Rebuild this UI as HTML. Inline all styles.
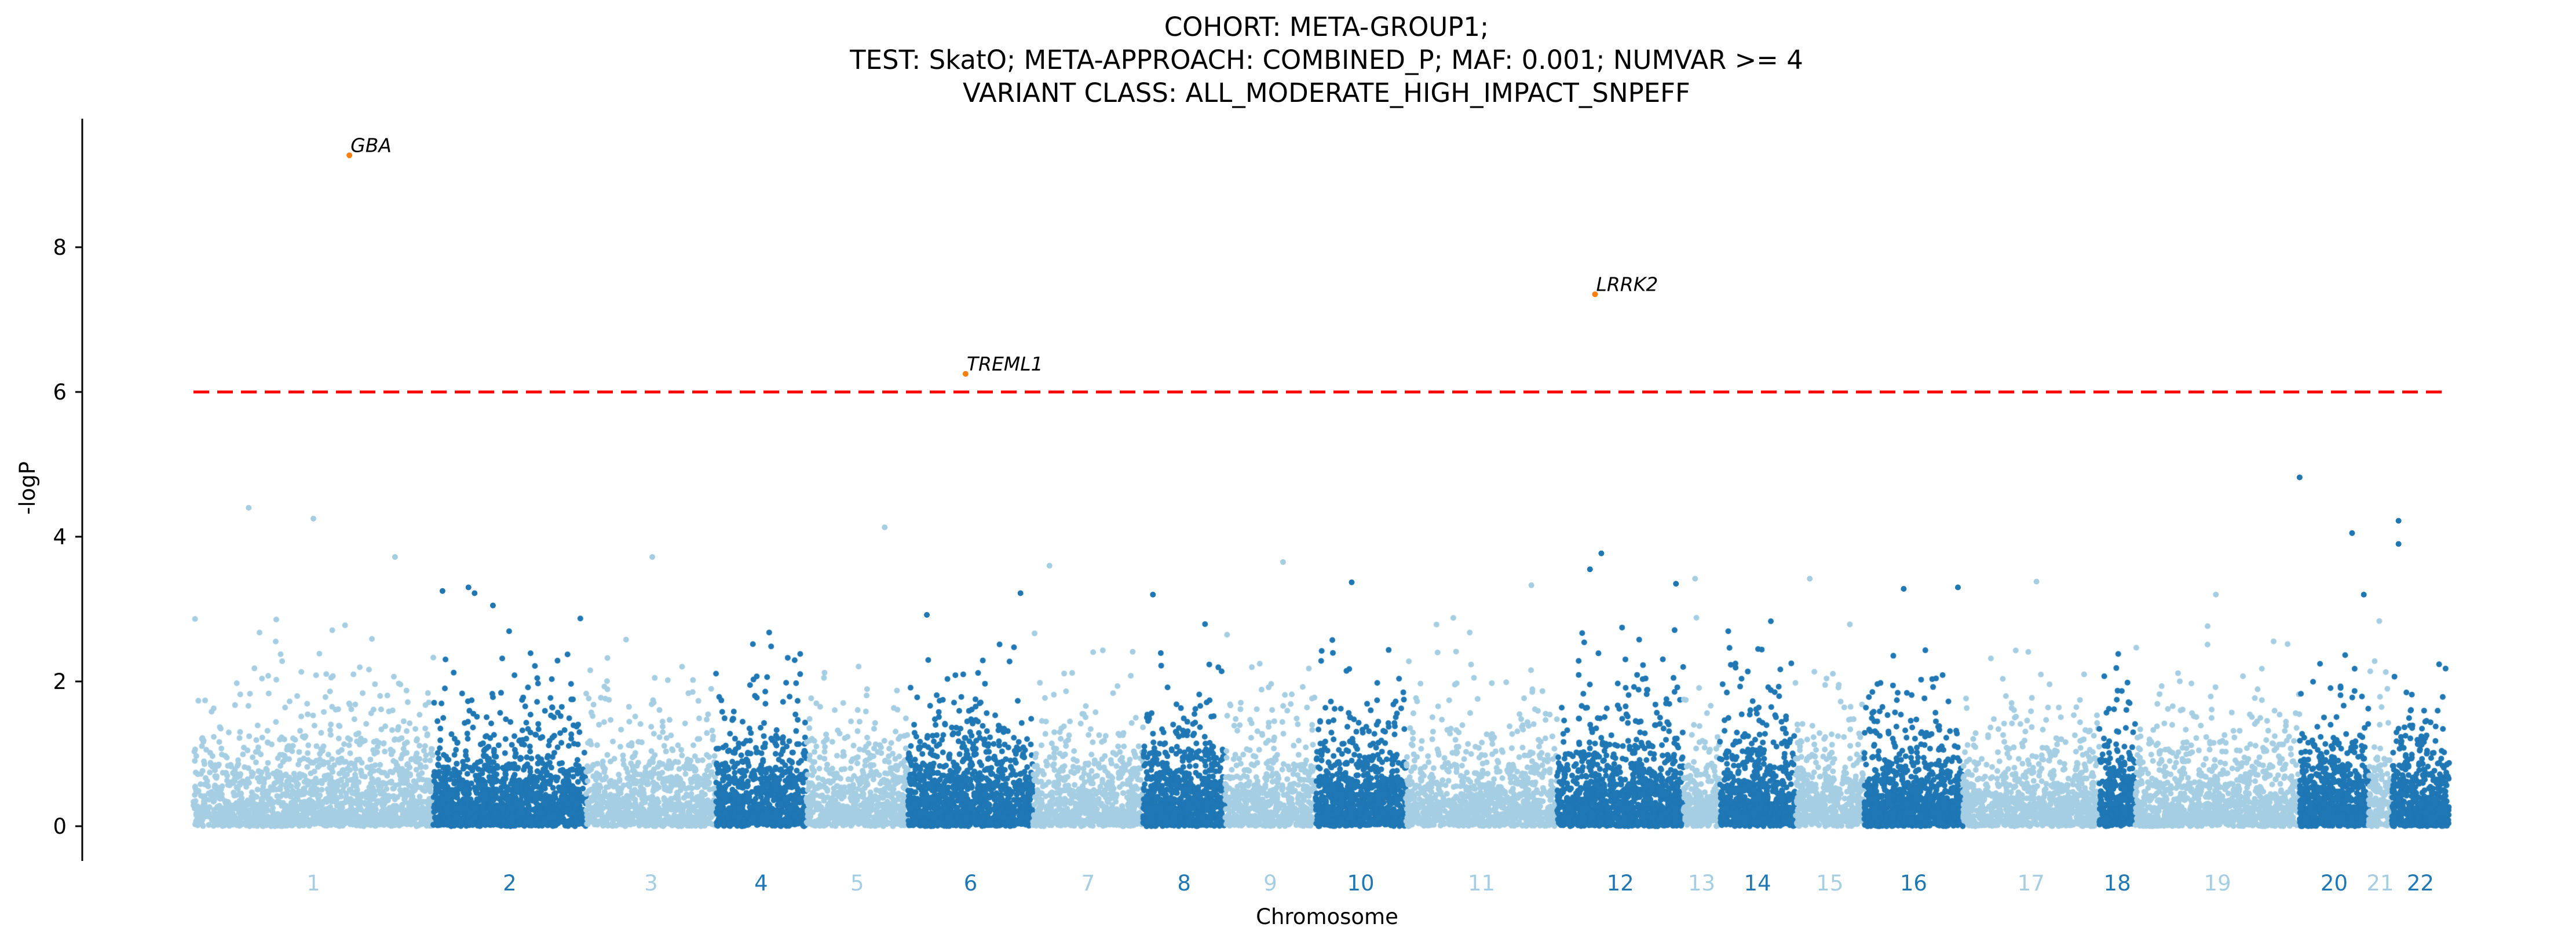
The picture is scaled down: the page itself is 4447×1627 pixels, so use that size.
<!DOCTYPE html>
<html><head><meta charset="utf-8">
<style>
html,body{margin:0;padding:0;background:#fff;}
#wrap{position:relative;width:4447px;height:1627px;overflow:hidden;font-family:"DejaVu Sans","Liberation Sans",sans-serif;}
canvas,svg{position:absolute;left:0;top:0;}
</style></head>
<body>
<div id="wrap">
<canvas id="cv" width="4447" height="1627"></canvas>
<svg id="sv" width="4447" height="1627"></svg>
</div>
<script>
// ---- data ----
const chromosomes = ["1","2","3","4","5","6","7","8","9","10","11","12","13","14","15","16","17","18","19","20","21","22"];
const chromLengths = [146,93,79,55,62,76,67,50,55,55,92,77,22,46,42,60,83,22,100,42,14,35];
const hitGenes = ["GBA","TREML1","LRRK2"];
const hitChrom = [1,6,12];
const hitPos = [0.65,0.46,0.30];
const hitLogP = [9.27,6.25,7.35];
const outChrom = [1,1,1,2,2,2,2,3,5,6,6,7,8,9,10,11,12,12,12,13,15,16,16,17,19,20,20,20,22,22];
const outPos = [0.23,0.50,0.84,0.06,0.23,0.27,0.39,0.51,0.77,0.15,0.90,0.15,0.12,0.64,0.40,0.83,0.26,0.35,0.94,0.32,0.21,0.40,0.95,0.54,0.49,0.0,0.76,0.93,0.12,0.12];
const outLogP = [4.4,4.25,3.72,3.25,3.3,3.22,3.05,3.72,4.13,2.92,3.22,3.6,3.2,3.65,3.37,3.33,3.55,3.77,3.35,3.42,3.42,3.28,3.3,3.38,3.2,4.82,4.05,3.2,4.22,3.9];
const yTicks = [0,2,4,6,8];
const threshold = 6;

// ---- scales ----
const X0=334, X1=4228, Y0=1427, PPU=125;
const total = chromLengths.reduce((a,b)=>a+b,0);
const starts=[];{let c=0;for(const l of chromLengths){starts.push(c);c+=l;}}
function xs(ci,frac){return X0+(starts[ci]+frac*chromLengths[ci])/total*(X1-X0);}
function ys(v){return Y0-v*PPU;}
const LIGHT="#a6cee3", DARK="#1f77b4";
function col(ci){return ci%2===0?LIGHT:DARK;}

// ---- background points (dense null-like scatter texture) ----
const cv=document.getElementById('cv'), ctx=cv.getContext('2d');
let seed=12345;function rnd(){seed=(seed*1664525+1013904223)>>>0;return seed/4294967296;}
chromosomes.forEach((c,ci)=>{
  const n=Math.round(chromLengths[ci]*(ci%2===0?11:16));
  ctx.fillStyle=col(ci);
  for(let i=0;i<n;i++){
    const f=rnd(); let v=-Math.log10(rnd()*0.9995+0.0005)*0.98; if(v>2.9)v=2.9-rnd()*0.6;
    ctx.beginPath();ctx.arc(xs(ci,f),ys(v),5,0,6.2832);ctx.fill();
  }
});

// ---- svg ----
const sv=document.getElementById('sv'), NS="http://www.w3.org/2000/svg";
function mk(tag,attrs,parent){const e=document.createElementNS(NS,tag);for(const k in attrs)e.setAttribute(k,attrs[k]);(parent||sv).appendChild(e);return e;}

outChrom.forEach((c,i)=>{
  const e=mk('circle',{cx:xs(c-1,outPos[i]),cy:ys(outLogP[i]),r:5,fill:col(c-1)});
  
  
});

// threshold
const th=mk('line',{x1:X0,x2:4222,y1:ys(threshold),y2:ys(threshold),stroke:"#ff0000","stroke-width":5,"stroke-dasharray":"27,14"});



hitGenes.forEach((g,i)=>{
  const x=xs(hitChrom[i]-1,hitPos[i]), y=ys(hitLogP[i]);
  const p=mk('circle',{cx:x,cy:y,r:5,fill:"#ff7f0e"});
  
  
  const t=mk('text',{x:x+2,y:y-6,"font-size":33,"font-style":"italic",fill:"#000"});
  t.textContent=g;
  
  
});

// y axis
const ax=mk('line',{x1:142,x2:142,y1:205,y2:1487,stroke:"#000","stroke-width":3});


yTicks.forEach(v=>{
  const tk=mk('line',{x1:130,x2:142,y1:ys(v),y2:ys(v),stroke:"#000","stroke-width":3});
  
  
  const t=mk('text',{x:115,y:ys(v)+13,"font-size":37,"text-anchor":"end",fill:"#000"});
  t.textContent=v;
  
  
});
const yl=mk('text',{x:0,y:0,"font-size":37,"text-anchor":"middle",transform:"translate(60,843) rotate(-90)"});
yl.textContent="-logP";



chromosomes.forEach((c,ci)=>{
  const t=mk('text',{x:xs(ci,0.5),y:1538,"font-size":37,"text-anchor":"middle",fill:col(ci)});
  t.textContent=c;
  
  
});
const xl=mk('text',{x:2291,y:1596,"font-size":37,"text-anchor":"middle"});
xl.textContent="Chromosome";



const titles=["COHORT: META-GROUP1;","TEST: SkatO; META-APPROACH: COMBINED_P; MAF: 0.001; NUMVAR >= 4","VARIANT CLASS: ALL_MODERATE_HIGH_IMPACT_SNPEFF"];
titles.forEach((s,i)=>{
  const t=mk('text',{x:2290,y:62+i*57,"font-size":45,"text-anchor":"middle"});
  t.textContent=s;
  
  
});
</script>
</body></html>
